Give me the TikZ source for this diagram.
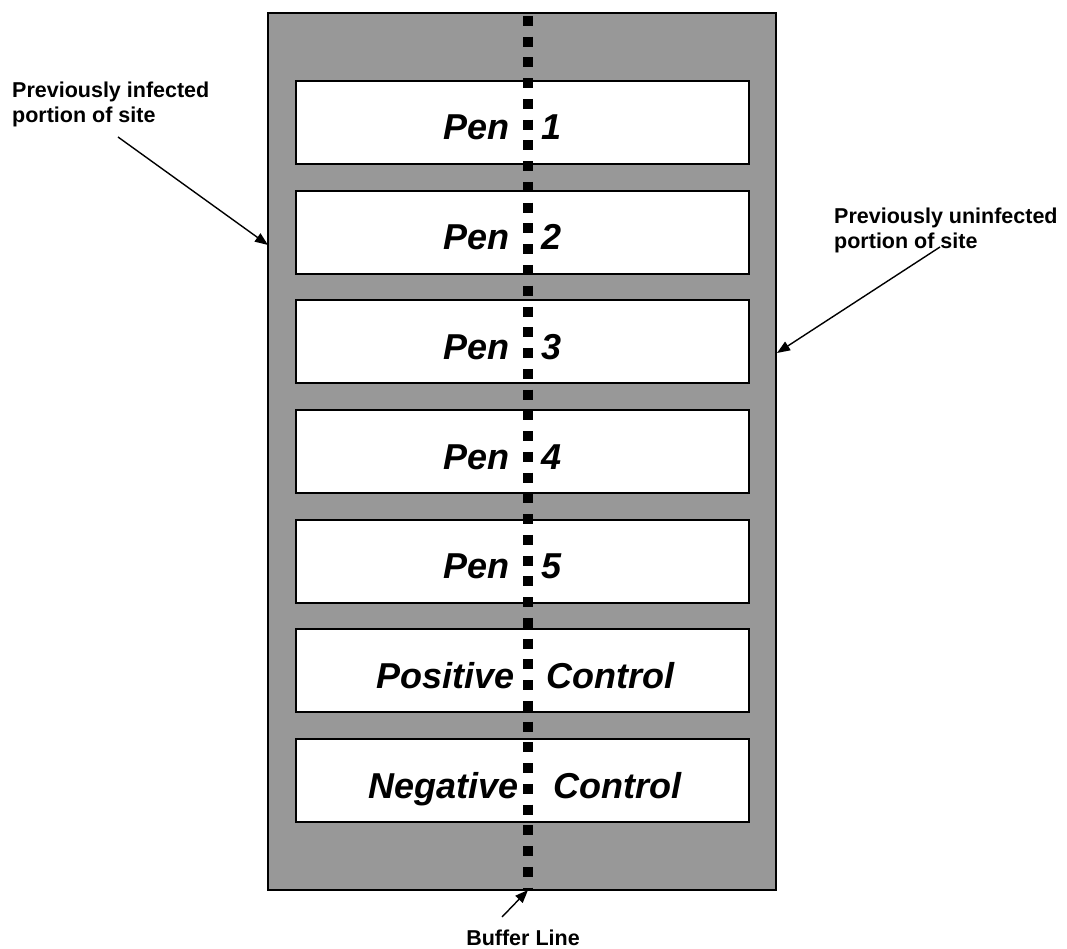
\documentclass[tikz,border=0pt]{standalone}
\usepackage{fontspec}
\newfontfamily\arial{Liberation Sans}
\usetikzlibrary{arrows.meta}
\definecolor{sitegray}{RGB}{152,152,152}
\tikzset{
  site/.style={draw=black, line width=1.5pt, fill=sitegray, minimum width=508pt, minimum height=877pt, inner sep=0pt},
  penbox/.style={draw=black, line width=2pt, fill=white, minimum width=453pt, minimum height=83pt, inner sep=0pt},
  pentext/.style={font=\arial\fontsize{36}{40}\selectfont\bfseries\itshape, inner sep=0pt},
  labeltext/.style={font=\arial\fontsize{21.5}{25}\selectfont\bfseries, inner sep=0pt, align=left},
  arr/.style={line width=1.4pt, -{Triangle[length=13pt,width=10pt]}},
  buffer/.style={line width=10pt, dash pattern=on 10pt off 10.75pt}
}
\begin{document}
\begin{tikzpicture}[x=1pt,y=-1pt]
\useasboundingbox (0,0) rectangle (1067,949);
\node[site] (site) at (522,451.5) {};
\foreach \i/\l/\r/\le/\rw in {0/Pen/1/510/541, 1/Pen/2/510/541, 2/Pen/3/510/541, 3/Pen/4/510/541, 4/Pen/5/510/541, 5/Positive/Control/515/546, 6/Negative/Control/519/553}{
  \pgfmathsetmacro{\top}{81+109.67*\i}
  \node[penbox] (box\i) at (522.5,\top+41.5) {};
  \node[pentext, anchor=base east] (l\i) at (\le,\top+59) {\l};
  \node[pentext, anchor=base west] (r\i) at (\rw,\top+59) {\r};
}
\coordinate (btop) at (528,16);
\coordinate (bbot) at (528,890);
\draw[buffer] (btop) -- (bbot);
\node[labeltext, anchor=base west] (inf) at (12,123) {Previously infected\\portion of site};
\node[labeltext, anchor=base west] (uninf) at (834,249) {Previously uninfected\\portion of site};
\node[labeltext, anchor=base] (buf) at (523,945) {Buffer Line};
\coordinate (infs) at (118,137);
\coordinate (infe) at (268,245);
\coordinate (uns) at (940,247);
\coordinate (une) at (777,353);
\coordinate (bufs) at (502,917);
\coordinate (bufe) at (528,890);
\draw[arr] (infs) -- (infe);
\draw[arr] (uns) -- (une);
\draw[arr] (bufs) -- (bufe);
\end{tikzpicture}
\end{document}
